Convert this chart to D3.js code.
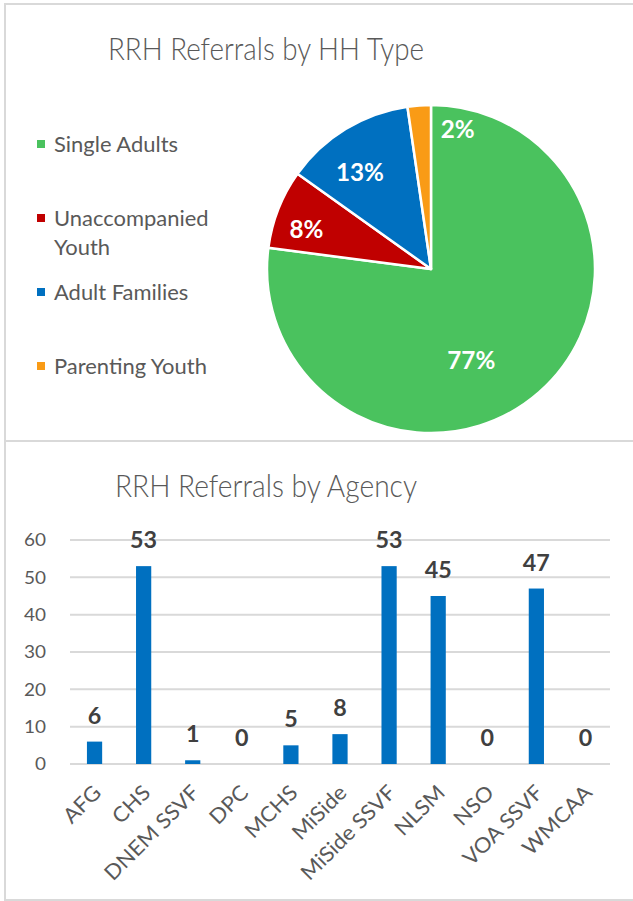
<!DOCTYPE html>
<html><head><meta charset="utf-8">
<script src="https://cdn.jsdelivr.net/npm/d3@7"></script>
<style>
html,body{margin:0;padding:0;background:#fff;}
svg{display:block;font-family:Lato,"Open Sans",sans-serif;}
</style></head>
<body>
<svg id="chart" width="633" height="901"></svg>
<script>
// ---- data ----
const hhTypes = ["Single Adults", "Unaccompanied Youth", "Adult Families", "Parenting Youth"];
const hhCounts = [168, 17, 28, 5];
const hhColors = ["#4AC25E", "#C00000", "#0070C0", "#F99B16"];

const agencies = ["AFG", "CHS", "DNEM SSVF", "DPC", "MCHS", "MiSide", "MiSide SSVF", "NLSM", "NSO", "VOA SSVF", "WMCAA"];
const agencyCounts = [6, 53, 1, 0, 5, 8, 53, 45, 0, 47, 0];
const yTicks = [0, 10, 20, 30, 40, 50, 60];

// ---- layout ----
const svg = d3.select("#chart");
const gray = "#595959", border = "#D9D9D9";
const CAP = 0.7165; // Lato cap-height ratio

function measure(sample, fs, weight) {
  const t = svg.append("text").attr("font-size", fs).attr("font-weight", weight || "normal").text(sample);
  const w = t.node().getComputedTextLength();
  t.remove();
  return w;
}
// text style: font size from cap height, horizontal squeeze from a sample width
function textStyle(capPx, sample, target, weight) {
  const fs = capPx / CAP;
  return { fs, k: target / measure(sample, fs, weight), weight: weight || "normal" };
}
function applyStyle(sel, st) {
  sel.attr("font-size", st.fs).attr("font-weight", st.weight).attr("font-family", "Lato");
  sel.each(function () {
    const w = this.getComputedTextLength();
    d3.select(this).attr("textLength", w * st.k).attr("lengthAdjust", "spacingAndGlyphs");
  });
}
const stTitle1 = textStyle(23, "RRH Referrals by HH Type", 316, 300);
const stTitle2 = textStyle(23, "RRH Referrals by Agency", 302, 300);
const stLegend = textStyle(15.5, "Single Adults", 124);
const stTick = textStyle(13, "60", 22);
const stValue = textStyle(16, "53", 27, "bold");
const stPie = textStyle(17.5, "13%", 48, "bold");
const stX = textStyle(15, "DNEM SSVF", 124);

// borders
svg.append("rect").attr("x", 5).attr("y", 4).attr("width", 640).attr("height", 437)
  .attr("fill", "none").attr("stroke", border).attr("stroke-width", 2);
svg.append("rect").attr("x", 5).attr("y", 441).attr("width", 640).attr("height", 459)
  .attr("fill", "none").attr("stroke", border).attr("stroke-width", 2);

// ---- pie chart ----
svg.append("text").attr("x", 266).attr("y", 60).attr("text-anchor", "middle")
  .attr("fill", gray).text("RRH Referrals by HH Type").call(applyStyle, stTitle1);

const cx = 431, cy = 269, R = 164;
const pie = d3.pie().sort(null).value(d => d)(hhCounts);
const arc = d3.arc().innerRadius(0).outerRadius(R);
const pg = svg.append("g").attr("transform", `translate(${cx},${cy})`);
pg.selectAll("path").data(pie).join("path")
  .attr("d", arc).attr("fill", (d, i) => hhColors[i])
  .attr("stroke", "#fff").attr("stroke-width", 2.5).attr("stroke-linejoin", "round");

const total = d3.sum(hhCounts);
// label placement (polar: degrees clockwise from top, distance from centre)
const labelPolar = [[156, 99], [288, 131], [324, 121], [10.8, 143]];
pg.selectAll("text.pl").data(pie).join("text").attr("class", "pl")
  .attr("x", (d, i) => labelPolar[i][1] * Math.sin(labelPolar[i][0] * Math.PI / 180))
  .attr("y", (d, i) => -labelPolar[i][1] * Math.cos(labelPolar[i][0] * Math.PI / 180))
  .attr("text-anchor", "middle").attr("dominant-baseline", "central")
  .attr("fill", "#fff")
  .text(d => Math.round(d.value / total * 100) + "%").call(applyStyle, stPie);

// legend
const legendRows = [[144], [218, 247], [292], [366]];
const lg = svg.append("g");
hhTypes.forEach((name, i) => {
  const y0 = legendRows[i][0];
  lg.append("rect").attr("x", 37).attr("y", y0 - 4).attr("width", 8).attr("height", 8).attr("fill", hhColors[i]);
  const words = name === "Unaccompanied Youth" ? ["Unaccompanied", "Youth"] : [name];
  words.forEach((w, j) => {
    lg.append("text").attr("x", 54).attr("y", legendRows[i][j]).attr("dominant-baseline", "central")
      .attr("fill", gray).text(w).call(applyStyle, stLegend);
  });
});

// ---- bar chart ----
svg.append("text").attr("x", 266).attr("y", 497).attr("text-anchor", "middle")
  .attr("fill", gray).text("RRH Referrals by Agency").call(applyStyle, stTitle2);

const x = d3.scaleBand().domain(agencies).range([70, 610]).paddingInner(0.69).paddingOuter(0.345);
const y = d3.scaleLinear().domain([0, 60]).range([764, 540]);

const grid = svg.append("g");
grid.selectAll("line").data(yTicks).join("line")
  .attr("x1", 70).attr("x2", 610).attr("y1", d => y(d)).attr("y2", d => y(d))
  .attr("stroke", border).attr("stroke-width", 2);

const yAxis = svg.append("g").attr("transform", "translate(46,0)")
  .call(d3.axisLeft(y).tickValues(yTicks).tickSize(0).tickPadding(0));
yAxis.select(".domain").remove();
yAxis.selectAll("text").attr("fill", gray).call(applyStyle, stTick);

svg.append("g").selectAll("rect").data(agencyCounts).join("rect")
  .attr("x", (d, i) => x(agencies[i])).attr("width", x.bandwidth())
  .attr("y", d => y(d)).attr("height", d => y(0) - y(d)).attr("fill", "#0070C0");

svg.append("g").selectAll("text").data(agencyCounts).join("text")
  .attr("x", (d, i) => x(agencies[i]) + x.bandwidth() / 2).attr("y", d => y(d) - 18)
  .attr("text-anchor", "middle")
  .attr("fill", "#404040").text(d => d).call(applyStyle, stValue);

const xAxis = svg.append("g").attr("transform", "translate(0,764)")
  .call(d3.axisBottom(x).tickSize(0).tickPadding(0));
xAxis.select(".domain").remove();
xAxis.selectAll("text").attr("fill", gray)
  .attr("text-anchor", "end").attr("dy", 0)
  .attr("transform", "translate(8,30) rotate(-45)").call(applyStyle, stX);
</script>
</body></html>
